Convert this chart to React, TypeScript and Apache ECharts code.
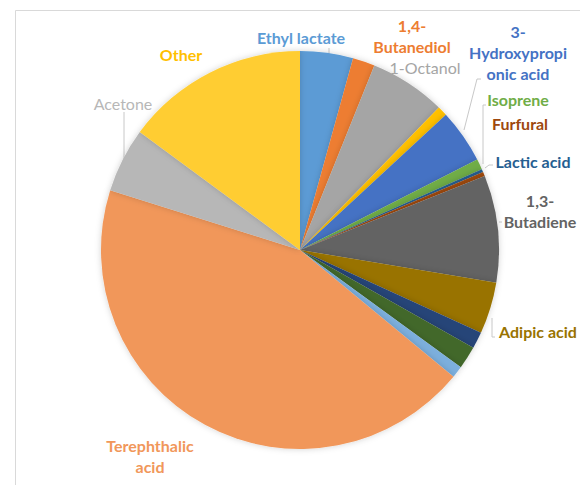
import React, { useEffect, useRef } from "react";
import * as echarts from "echarts";

const categories = [
  "Ethyl lactate",
  "1,4-Butanediol",
  "1-Octanol",
  "Slice 4",
  "3-Hydroxypropionic acid",
  "Isoprene",
  "Lactic acid",
  "Furfural",
  "1,3-Butadiene",
  "Adipic acid",
  "Slice 11",
  "Slice 12",
  "Slice 13",
  "Terephthalic acid",
  "Acetone",
  "Other",
];

const values = [4.3, 1.8, 6.2, 0.8, 4.4, 0.85, 0.25, 0.35, 8.7, 4.2, 1.35, 1.85, 0.95, 43.9, 5.25, 14.9];

const labelTexts = [
  "Ethyl lactate",
  "1,4-\nButanediol",
  "1-Octanol",
  "",
  "3-\nHydroxypropi\nonic acid",
  "Isoprene",
  "Lactic acid",
  "Furfural",
  "1,3-\nButadiene",
  "Adipic acid",
  "",
  "",
  "",
  "Terephthalic\nacid",
  "Acetone",
  "Other",
];

const colors = [
  "#5B9BD5", "#ED7D31", "#A5A5A5", "#FFC000", "#4472C4", "#70AD47",
  "#255E91", "#9E480E", "#636363", "#997300", "#264478", "#43682B",
  "#7CAFDD", "#F1975A", "#B7B7B7", "#FFCD33",
];

const labelColors = [
  "#5B9BD5", "#ED7D31", "#A5A5A5", "#FFC000", "#4472C4", "#70AD47",
  "#255E91", "#9E480E", "#636363", "#997300", "#264478", "#43682B",
  "#7CAFDD", "#F1975A", "#B7B7B7", "#FFC000",
];

const labelWeights = [
  "bold", "bold", "normal", "bold", "bold", "bold",
  "bold", "bold", "bold", "bold", "bold", "bold",
  "bold", "bold", "normal", "bold",
];

// label placement (style/layout only)
const labelPos: Record<number, { x: number; y: number; line?: number[][] }> = {
  0: { x: 301, y: 37, line: [[329, 48], [329, 56]] },
  1: { x: 412, y: 36 },
  2: { x: 425, y: 67 },
  4: { x: 518, y: 52, line: [[481, 79], [477, 79], [464, 130]] },
  5: { x: 518, y: 99, line: [[486, 105], [483, 105], [483, 164]] },
  6: { x: 533, y: 161, line: [[493, 165], [489, 165], [485, 168]] },
  7: { x: 520, y: 123 },
  8: { x: 540, y: 211, line: [[502, 222], [499, 222]] },
  9: { x: 538, y: 331, line: [[495, 337], [492, 337], [492, 318]] },
  13: { x: 150, y: 456 },
  14: { x: 123, y: 103, line: [[124, 112], [124, 160]] },
  15: { x: 181, y: 54 },
};

export default function App() {
  const ref = useRef<HTMLDivElement>(null);
  useEffect(() => {
    if (!ref.current) return;
    const chart = echarts.init(ref.current, undefined, { renderer: "svg" });
    const data = categories.map((name, i) => ({
      name,
      value: values[i],
      itemStyle: { color: colors[i] },
      label: {
        show: labelTexts[i] !== "",
        formatter: labelTexts[i] || " ",
        color: labelColors[i],
        fontWeight: labelWeights[i],
      },
      labelLine: { show: !!(labelPos[i] && labelPos[i].line) },
    }));
    chart.setOption({
      animation: false,
      backgroundColor: "#ffffff",
      graphic: [
        {
          type: "rect",
          shape: { x: 15.5, y: 10.5, width: 600, height: 500 },
          style: { fill: "none", stroke: "#d9d9d9", lineWidth: 1 },
          silent: true,
        },
      ],
      series: [
        {
          type: "pie",
          center: [300, 250],
          radius: 199,
          startAngle: 90,
          clockwise: true,
          avoidLabelOverlap: false,
          data,
          itemStyle: {
            borderWidth: 0,
            shadowBlur: 6,
            shadowColor: "rgba(0,0,0,0.18)",
          },
          label: {
            show: true,
            position: "outside",
            fontFamily: "Lato, 'Open Sans', sans-serif",
            fontWeight: "bold",
            fontSize: 16,
            lineHeight: 21,
            align: "center",
          },
          labelLine: {
            show: true,
            lineStyle: { color: "#c8c8c8", width: 1 },
          },
          labelLayout: (params: any) => {
            const p = labelPos[params.dataIndex];
            if (!p) return {};
            const out: any = {
              x: p.x,
              y: p.y,
              align: "center",
              verticalAlign: "middle",
            };
            if (p.line) out.labelLinePoints = p.line;
            return out;
          },
        },
      ],
    });
    return () => chart.dispose();
  }, []);
  return (
    <div
      ref={ref}
      style={{ position: "fixed", left: 0, top: 0, width: 580, height: 485 }}
    />
  );
}
